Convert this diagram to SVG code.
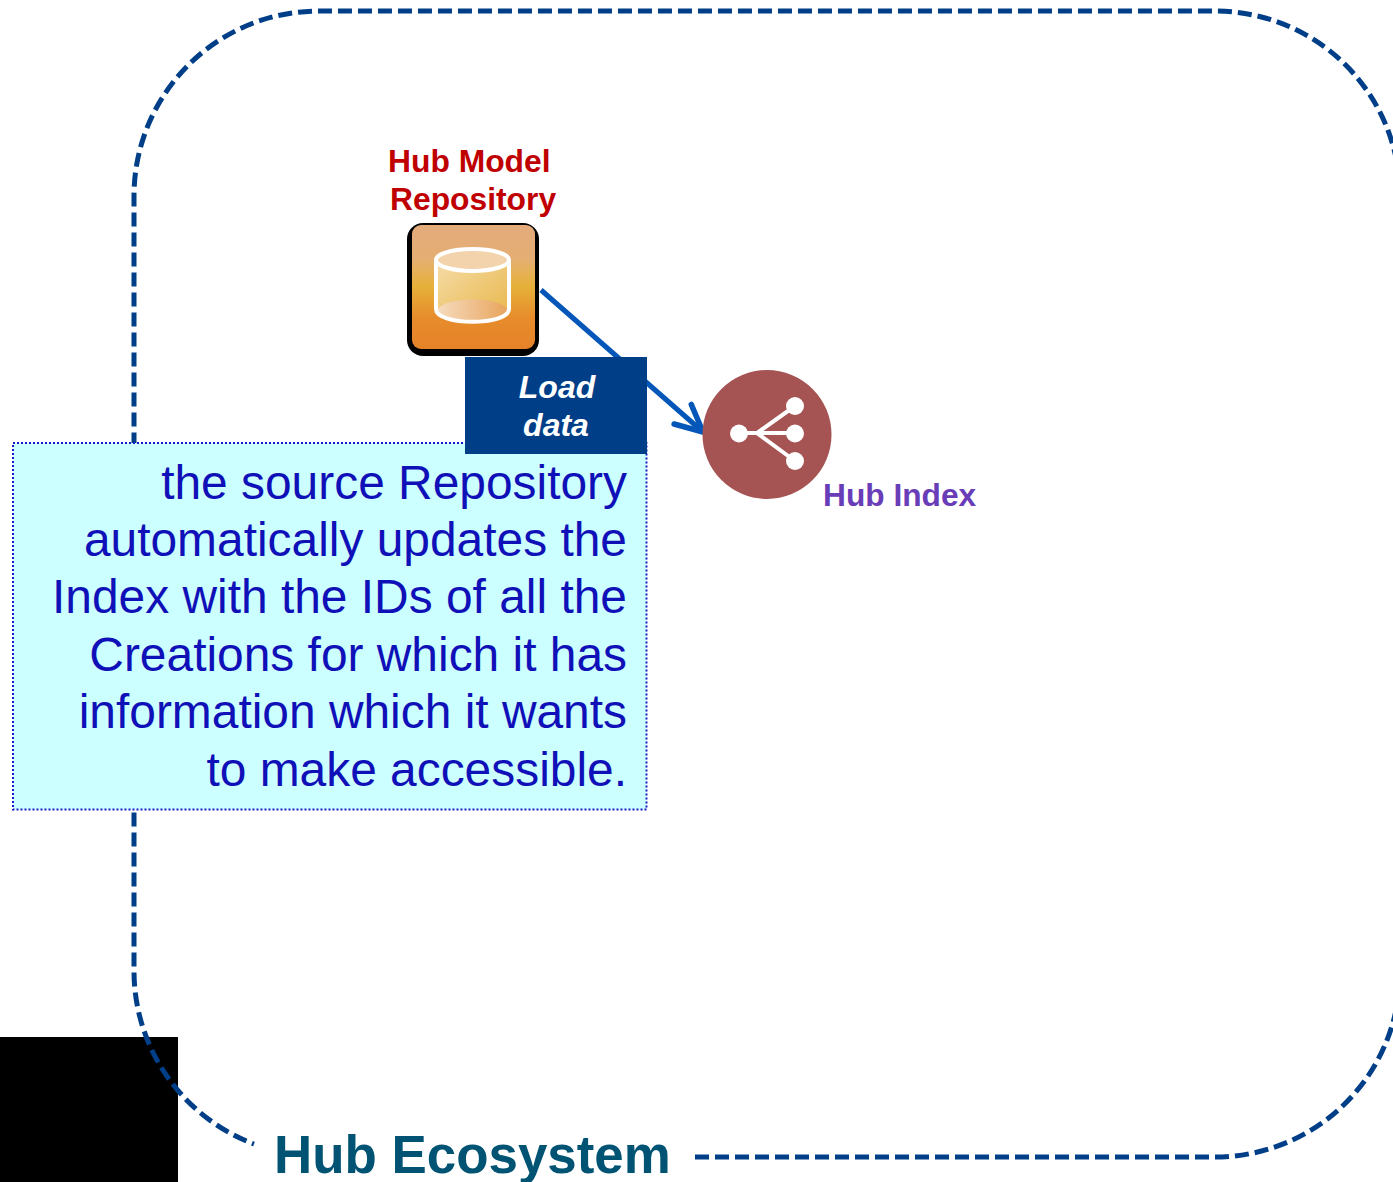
<svg xmlns="http://www.w3.org/2000/svg" width="1393" height="1182" viewBox="0 0 1393 1182">
<style>
text{font-family:"Liberation Sans",Arial,sans-serif}
.b{font-weight:700}
.desc{font-size:47.9px;fill:#1010b8;text-anchor:end}
.lab{font-size:32px;font-weight:700;font-style:italic;fill:#fff;text-anchor:middle}
.rep{font-size:31.8px;font-weight:700;fill:#c00000}
</style>
<defs>
<linearGradient id="org" x1="0" y1="0" x2="0" y2="1">
<stop offset="0" stop-color="#e4ab7c"/><stop offset=".28" stop-color="#e5ae72"/><stop offset=".36" stop-color="#e6b15c"/><stop offset=".5" stop-color="#e6b038"/><stop offset=".75" stop-color="#e78c2c"/><stop offset="1" stop-color="#e58228"/>
</linearGradient>
<linearGradient id="cyl" x1="0" y1="0" x2="1" y2="1">
<stop offset="0" stop-color="#f5dca8"/><stop offset="1" stop-color="#e8b648"/>
</linearGradient>
<linearGradient id="cylb" x1="0" y1="0" x2="1" y2="0">
<stop offset="0" stop-color="#f6dcc0"/><stop offset="1" stop-color="#e8a45c"/>
</linearGradient>
<marker id="arr" markerUnits="userSpaceOnUse" markerWidth="40" markerHeight="40" refX="32" refY="20" orient="auto" viewBox="0 0 40 40">
<path d="M5 7 L32 20 L5 33" fill="none" stroke="#0457b8" stroke-width="5.500" stroke-linecap="round" stroke-linejoin="round"/>
</marker>
</defs>
<g id="ecosystem">
<rect x="0" y="1037" width="178" height="145" fill="#000"/>
<path d="M695 1157H1215A185 185 0 0 0 1400 972V196A185 185 0 0 0 1215 11H319A185 185 0 0 0 134 196V972A185 185 0 0 0 254 1144" fill="none" stroke="#003f88" stroke-width="5" stroke-dasharray="14 6"/>
<text class="b" x="274" y="1173" font-size="52.900" fill="#005373">Hub Ecosystem</text>
</g>
<g id="connectors">
<path d="M541 290L703 432" fill="none" stroke="#0457b8" stroke-width="5" marker-end="url(#arr)"/>
</g>
<g id="repository">
<rect x="407" y="223" width="132" height="133" rx="16" fill="#000"/>
<rect x="412" y="225" width="123" height="124" rx="9" fill="url(#org)"/>
<path d="M436 260V310C436 326 509 326 509 310V260Z" fill="url(#cyl)"/>
<ellipse cx="472.500" cy="260" rx="36.500" ry="11" fill="#f3d3ab"/>
<path d="M437 310C445 296 501 296 508 310C501 324 445 324 437 310Z" fill="url(#cylb)"/>
<path d="M436 260V309C436 326 509 326 509 309V260" fill="none" stroke="#fff" stroke-width="4"/>
<ellipse cx="472.500" cy="260" rx="36.500" ry="11" fill="none" stroke="#fff" stroke-width="4"/>
<text class="rep" x="388" y="172">Hub Model</text>
<text class="rep" x="390" y="210">Repository</text>
</g>
<g id="description">
<rect x="13" y="443" width="633.500" height="366.500" fill="#ccffff" stroke="#1a1ac8" stroke-width="2" stroke-dasharray="2 2"/>
<text class="desc" x="627" y="499">the source Repository</text>
<text class="desc" x="627" y="556">automatically updates the</text>
<text class="desc" x="627" y="613">Index with the IDs of all the</text>
<text class="desc" x="627" y="671">Creations for which it has</text>
<text class="desc" x="627" y="728">information which it wants</text>
<text class="desc" x="627" y="786">to make accessible.</text>
</g>
<g id="load-data">
<rect x="465" y="357" width="182" height="97" fill="#003f88"/>
<text class="lab" x="557" y="398">Load</text>
<text class="lab" x="556" y="436">data</text>
</g>
<g id="index">
<circle cx="767" cy="434.500" r="64.500" fill="#a55353"/>
<path d="M739 433H795M795 406L757 433L795 461" fill="none" stroke="#fff" stroke-width="4"/>
<circle cx="739" cy="433.500" r="9" fill="#fff"/>
<circle cx="795" cy="406" r="9" fill="#fff"/>
<circle cx="795" cy="433.500" r="9" fill="#fff"/>
<circle cx="795" cy="461" r="9" fill="#fff"/>
<text class="b" x="823" y="506" font-size="31.700" fill="#6a3db8">Hub Index</text>
</g>
</svg>
